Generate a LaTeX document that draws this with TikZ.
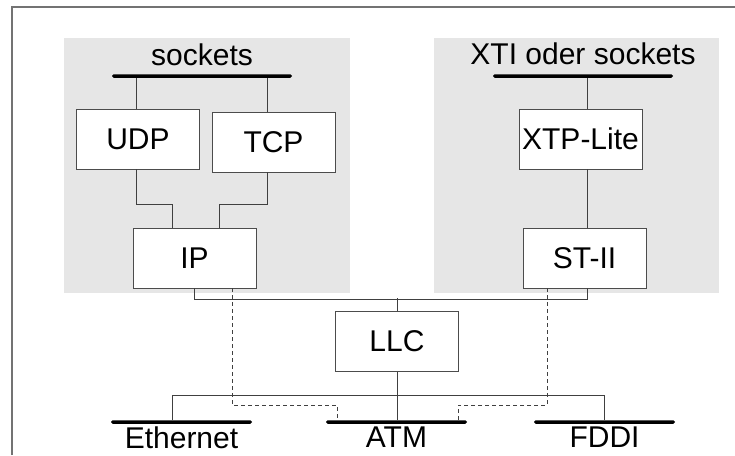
\documentclass[tikz,border=0pt]{standalone}
\usepackage{fontspec}
\setmainfont{Liberation Sans}
\usepackage{tikz}
\usetikzlibrary{positioning}
\definecolor{panelgray}{HTML}{E6E6E6}
\tikzstyle{panel} =
[rectangle, inner sep=0pt, fill=panelgray, draw=none]
\tikzstyle{layer} =
[rectangle, minimum width = 123pt, minimum height = 60pt, inner sep=0pt,
text centered, draw=black!70, line width=0.9pt, fill=white,
font=\fontsize{30}{32}\selectfont]
\tikzstyle{bus} =
[rectangle, rounded corners=1.7pt, minimum height = 3.5pt, inner sep=0pt,
fill=black, draw=none]
\tikzstyle{lbl} =
[inner sep=0pt, font=\fontsize{30}{32}\selectfont]
\tikzstyle{wire} = [draw, black!75, line width=0.8pt]
\tikzstyle{dashline} = [draw, black!75, line width=0.8pt, dash pattern=on 4pt off 3pt]
\tikzstyle{frame} = [draw, black!55, line width=1.4pt]

\begin{document}
\begin{tikzpicture}[x=1pt, y=-1pt, node distance = 60pt]
  \useasboundingbox (0,0) rectangle (735,455);
  % frame and panels
  \path [frame] (12,455) -- (12,7) -- (735,7);
  \node [panel, minimum width=286pt, minimum height=255pt] (leftpanel) at (207,165.5) {};
  \node [panel, minimum width=285pt, minimum height=255pt] (rightpanel) at (576.5,165.5) {};
  % upper buses
  \node [bus, minimum width=180pt] (sockbus) at (202,76) {};
  \node [lbl, above=8pt of sockbus] (socklbl) {sockets};
  \node [bus, minimum width=180pt] (xtibus) at (583,76) {};
  \node [lbl, above=9pt of xtibus] (xtilbl) {XTI oder sockets};
  % protocol nodes
  \node [layer] (udp) at (138,139) {UDP};
  \node [layer, right of=udp, node distance=135.5pt, yshift=-3pt] (tcp) {TCP};
  \node [layer] (ip) at (194.5,258) {IP};
  \node [layer, right of=ip, node distance=390pt] (st) {ST-II};
  \node [layer, above of=st, node distance=119pt, xshift=-4pt] (xtp) {XTP-Lite};
  \node [layer] (llc) at (397,341.5) {LLC};
  % lower buses
  \node [bus, minimum width=141pt] (ethbus) at (181.5,422) {};
  \node [lbl, below=3pt of ethbus] (ethlbl) {Ethernet};
  \node [bus, minimum width=141pt] (atmbus) at (396.5,422) {};
  \node [lbl, below=3pt of atmbus] (atmlbl) {ATM};
  \node [bus, minimum width=141pt] (fddibus) at (604.5,422) {};
  \node [lbl, below=3pt of fddibus] (fddilbl) {FDDI};
  % attachment points
  \coordinate (udptop) at ([xshift=-2pt]udp.north);
  \coordinate (udpbot) at ([xshift=-2pt]udp.south);
  \coordinate (tcptop) at ([xshift=-6.5pt]tcp.north);
  \coordinate (tcpbot) at ([xshift=-6.5pt]tcp.south);
  \coordinate (ipl) at ([xshift=-22.5pt]ip.north);
  \coordinate (ipr) at ([xshift=24.5pt]ip.north);
  \coordinate (xtptop) at ([xshift=6.5pt]xtp.north);
  \coordinate (xtpbot) at ([xshift=6.5pt]xtp.south);
  \coordinate (stbot) at ([xshift=2.5pt]st.south);
  \coordinate (split) at ([yshift=-23pt]llc.south);
  % left stack edges
  \path [wire] (udptop) -- (udptop |- sockbus.south);
  \path [wire] (tcptop) -- (tcptop |- sockbus.south);
  \path [wire] (udpbot) -- ++(0,35) -| (ipl);
  \path [wire] (tcpbot) -- ++(0,32) -| (ipr);
  % right stack edges
  \path [wire] (xtptop) -- (xtptop |- xtibus.south);
  \path [wire] (xtpbot) -- (xtpbot |- st.north);
  % LLC edges
  \path [wire] (ip.south) -- ++(0,11) -| (stbot);
  \path [wire] (llc.north) -- ++(0,-13);
  \path [wire] (llc.south) -- (llc.south |- atmbus.north);
  \path [wire] ([xshift=-9.5pt]ethbus.north) |- (split) -| (fddibus.north);
  % direct ATM edges
  \path [dashline] ([xshift=37.5pt]ip.south) -- ++(0,117) -| ([xshift=-59.5pt]atmbus.north);
  \path [dashline] ([xshift=-37.5pt]st.south) -- ++(0,117) -| ([xshift=61.5pt]atmbus.north);
\end{tikzpicture}
\end{document}
